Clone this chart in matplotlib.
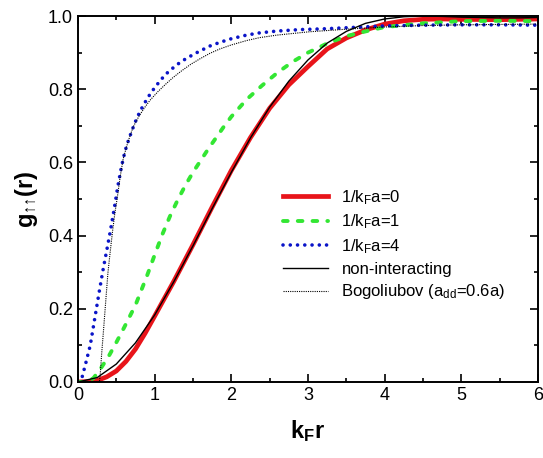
import matplotlib
matplotlib.use("Agg")
import matplotlib.pyplot as plt
from matplotlib.ticker import MultipleLocator

plt.rcParams['font.family'] = ['Liberation Sans', 'DejaVu Sans']
plt.rcParams['mathtext.fontset'] = 'custom'
plt.rcParams['mathtext.rm'] = 'Liberation Sans'
plt.rcParams['mathtext.it'] = 'Liberation Sans:italic'
plt.rcParams['mathtext.bf'] = 'Liberation Sans:bold'

# 1/kFa = 0
x_a0 = [0, 0.15, 0.25, 0.375, 0.5, 0.625, 0.75, 0.875, 1.0, 1.25, 1.5, 1.75,
        2.0, 2.25, 2.5, 2.75, 3.0, 3.25, 3.5, 3.75, 4.0, 4.25, 4.5, 4.75, 5.0,
        5.5, 6.0]
g_a0 = [0, 0.001, 0.004, 0.014, 0.03, 0.056, 0.09, 0.133, 0.18, 0.275, 0.375,
        0.478, 0.578, 0.668, 0.748, 0.812, 0.862, 0.91, 0.94, 0.962, 0.978,
        0.987, 0.991, 0.992, 0.991, 0.99, 0.992]

# 1/kFa = 1
x_a1 = [0, 0.1, 0.2, 0.3, 0.4, 0.5, 0.6, 0.75, 0.9, 1.0, 1.1, 1.2, 1.3, 1.4,
        1.5, 1.6, 1.7, 1.8, 1.9, 2.0, 2.2, 2.4, 2.6, 2.8, 3.0, 3.25, 3.5, 3.75,
        4.0, 4.5, 5.0, 5.5, 6.0]
g_a1 = [0, 0.0, 0.01, 0.038, 0.07, 0.108, 0.148, 0.21, 0.29, 0.347, 0.403,
        0.453, 0.497, 0.537, 0.573, 0.605, 0.637, 0.667, 0.697, 0.725, 0.772,
        0.81, 0.845, 0.875, 0.9, 0.925, 0.945, 0.958, 0.97, 0.98, 0.986,
        0.987, 0.986]

# 1/kFa = 4
x_a4 = [0, 0.05, 0.1, 0.16, 0.2, 0.24, 0.28, 0.33, 0.38, 0.42, 0.47, 0.52,
        0.56, 0.59, 0.62, 0.65, 0.7, 0.75, 0.81, 0.88, 0.95, 1.07, 1.15, 1.25,
        1.33, 1.42, 1.55, 1.72, 1.85, 2.0, 2.2, 2.37, 2.6, 2.9, 3.2, 3.5, 4.0,
        4.5, 5.0, 5.5, 6.0]
g_a4 = [0, 0.01, 0.05, 0.10, 0.15, 0.20, 0.25, 0.31, 0.365, 0.41, 0.47,
        0.535, 0.58, 0.61, 0.635, 0.655, 0.685, 0.712, 0.74, 0.766, 0.79,
        0.823, 0.842, 0.86, 0.873, 0.885, 0.9, 0.918, 0.928, 0.938, 0.948,
        0.954, 0.959, 0.963, 0.965, 0.968, 0.973, 0.975, 0.976, 0.976, 0.975]

# non-interacting
x_free = [0, 0.25, 0.5, 0.75, 1.0, 1.25, 1.5, 1.75, 2.0, 2.25, 2.5, 2.75, 3.0,
          3.25, 3.5, 3.75, 4.0, 4.25, 4.5, 4.75, 5.0, 5.25, 5.5, 5.75, 6.0]
g_free = [0, 0.012, 0.049, 0.107, 0.183, 0.274, 0.372, 0.474, 0.573, 0.667,
          0.751, 0.822, 0.880, 0.926, 0.958, 0.980, 0.992, 0.998, 1.0, 0.999,
          0.997, 0.996, 0.995, 0.995, 0.996]

# Bogoliubov (add=0.6a)
x_bog = [0, 0.28, 0.29, 0.3, 0.31, 0.33, 0.36, 0.39, 0.42, 0.45, 0.48, 0.51,
         0.55, 0.59, 0.65, 0.72, 0.8, 0.88, 0.94, 1.05, 1.15, 1.24, 1.35, 1.47,
         1.59, 1.72, 1.85, 2.0, 2.2, 2.37, 2.6, 3.02, 3.5, 4.0, 4.5, 5.0, 5.5,
         6.0]
g_bog = [0, 0, 0.02, 0.05, 0.08, 0.133, 0.215, 0.297, 0.355, 0.41, 0.46, 0.5,
         0.56, 0.61, 0.655, 0.697, 0.728, 0.753, 0.77, 0.795, 0.815, 0.832,
         0.85, 0.868, 0.883, 0.898, 0.91, 0.921, 0.933, 0.941, 0.948, 0.957,
         0.964, 0.97, 0.974, 0.976, 0.977, 0.978]

fig = plt.figure(figsize=(5.43, 4.58), dpi=100)
ax = fig.add_axes([0.1436, 0.166, 0.8472, 0.799])

ax.plot(x_a0, g_a0, color='#e8141a', lw=3.4, label=r'1/k$_\mathrm{F}$a=0')
ax.plot(x_a1, g_a1, color='#33e633', lw=2.8, linestyle=(0, (1.2, 2.6)),
        dash_capstyle='round', label=r'1/k$_\mathrm{F}$a=1')
ax.plot(x_a4, g_a4, color='#0a14c8', lw=2.6, linestyle=(0, (0.01, 2.0)),
        dash_capstyle='round', label=r'1/k$_\mathrm{F}$a=4')
ax.plot(x_free, g_free, color='black', lw=1.0, label='non-interacting')
ax.plot(x_bog, g_bog, color='black', lw=0.8, linestyle=(0, (1, 1)),
        label=r'Bogoliubov (a$_\mathrm{dd}$=0.6a)')

ax.set_xlim(0, 6)
ax.set_ylim(0, 1.0)
ax.xaxis.set_major_locator(MultipleLocator(1))
ax.xaxis.set_minor_locator(MultipleLocator(0.5))
ax.yaxis.set_major_locator(MultipleLocator(0.2))
ax.yaxis.set_minor_locator(MultipleLocator(0.1))
ax.yaxis.set_major_formatter(matplotlib.ticker.FormatStrFormatter('%.1f'))
ax.tick_params(which='both', direction='in', top=True, right=True, width=1.2,
               labelsize=13)
ax.tick_params(which='major', length=6)
ax.tick_params(which='minor', length=3)
for s in ax.spines.values():
    s.set_linewidth(1.4)

ax.set_xlabel(r'$\mathbf{k_F r}$', fontsize=17, labelpad=10)
ax.set_ylabel(r'$\mathbf{g_{↑↑}(r)}$', fontsize=17, labelpad=6)

ax.legend(loc='upper left', bbox_to_anchor=(0.446, 0.53), frameon=False,
          fontsize=12, handlelength=2.7, handletextpad=0.8, labelspacing=0.35,
          borderpad=0, borderaxespad=0)

fig.savefig('out.png', dpi=100)
